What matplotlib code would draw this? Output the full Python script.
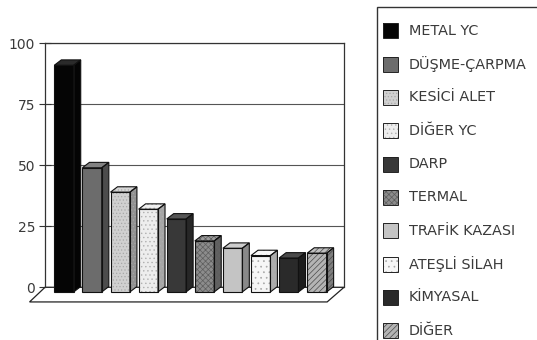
import matplotlib.pyplot as plt
from matplotlib.patches import Polygon, Rectangle
from matplotlib.colors import to_rgb

categories = ['METAL YC', 'DÜŞME-ÇARPMA', 'KESİCİ ALET', 'DİĞER YC', 'DARP',
              'TERMAL', 'TRAFİK KAZASI', 'ATEŞLİ SİLAH', 'KİMYASAL', 'DİĞER']
values = [91, 49, 39, 32, 28, 19, 16, 13, 12, 14]
y_ticks = [0, 25, 50, 75, 100]

# fill, hatch pattern and hatch colour for each series
face_colors = ['#050505', '#6c6c6c', '#d0d0d0', '#ededed', '#383838',
               '#8c8c8c', '#c4c4c4', '#f6f6f6', '#2a2a2a', '#b4b4b4']
hatches = [None, None, '.....', '....', None, 'xxxxxx', None, '...', None, '//////']
hatch_colors = ['#000000', '#555555', '#a8a8a8', '#b0b0b0', '#222222',
                '#5e5e5e', '#999999', '#a8a8a8', '#111111', '#4a4a4a']

plt.rcParams['font.family'] = 'DejaVu Sans'
plt.rcParams['hatch.linewidth'] = 0.5

W, H = 537, 340
fig = plt.figure(figsize=(W / 100, H / 100), dpi=100)

# back wall, pixel-placed so the 3D floor and legend fit around it
ax = fig.add_axes([45 / W, (H - 287.3) / H, 299 / W, 244 / H])
ax.set_xlim((45 - 64) / 28.1, (344 - 64) / 28.1)
ax.set_ylim(0, 100)
ax.set_yticks(y_ticks)
ax.set_xticks([])
ax.tick_params(axis='y', direction='inout', length=8, width=0.8, pad=3,
               labelsize=10, labelcolor='#3a3a3a', color='#333333')
for side in ['left', 'top', 'right']:
    ax.spines[side].set_linewidth(0.9)
    ax.spines[side].set_color('#333333')
ax.spines['bottom'].set_visible(False)
ax.set_axisbelow(True)
ax.yaxis.grid(True, color='#555555', linewidth=0.8)

# floor
xl, xr = ax.get_xlim()
floor = Polygon([(xl, 0), (xr, 0), (xr - 0.6, -6.0), (xl - 0.55, -6.0)],
                closed=True, facecolor='white', edgecolor='#222222',
                linewidth=0.9, zorder=1, clip_on=False)
ax.add_patch(floor)

base = -1.9      # front edge of the bars sits a little in front of the wall
width = 0.69
dx, dy = 0.25, 2.2  # depth offset of the boxes


def mix(c, t, k):
    c, t = to_rgb(c), to_rgb(t)
    return tuple(a + (b - a) * k for a, b in zip(c, t))


x = list(range(len(values)))
bars = ax.bar(x, [v - base for v in values], width=width, bottom=base,
              color=face_colors, linewidth=0, zorder=3, clip_on=False)

for i, b in enumerate(bars):
    left, right = b.get_x(), b.get_x() + b.get_width()
    top = b.get_y() + b.get_height()
    fc = face_colors[i]
    side = [(right, base), (right + dx, base + dy), (right + dx, top + dy), (right, top)]
    cap = [(left, top), (right, top), (right + dx, top + dy), (left + dx, top + dy)]
    for pts, col in [(side, mix(fc, '#000000', 0.3)), (cap, mix(fc, '#ffffff', 0.15))]:
        ax.add_patch(Polygon(pts, closed=True, facecolor=col, edgecolor=hatch_colors[i],
                             hatch=hatches[i], linewidth=0, zorder=3, clip_on=False))
        ax.add_patch(Polygon(pts, closed=True, fill=False, edgecolor='#111111',
                             linewidth=0.8, zorder=4, clip_on=False))
    if hatches[i]:
        b.set_hatch(hatches[i])
        b.set_edgecolor(hatch_colors[i])
    ax.add_patch(Rectangle((left, base), b.get_width(), top - base, fill=False,
                           edgecolor='#111111', linewidth=0.8, zorder=4, clip_on=False))

# legend box running off the right and bottom edges
fig.patches.append(Rectangle((377 / W, -0.1), 0.4, 1.1 - 7 / H, fill=False,
                             edgecolor='#333333', linewidth=1.0,
                             transform=fig.transFigure, figure=fig))
for i, name in enumerate(categories):
    yc = 30.7 + 33.33 * i
    sw = Rectangle((383 / W, (H - yc - 7.5) / H), 15 / W, 15 / H,
                   facecolor=face_colors[i], edgecolor=hatch_colors[i],
                   hatch=hatches[i], linewidth=0, transform=fig.transFigure, figure=fig)
    fig.patches.append(sw)
    fig.patches.append(Rectangle((383 / W, (H - yc - 7.5) / H), 15 / W, 15 / H,
                                 fill=False, edgecolor='#222222', linewidth=0.7,
                                 transform=fig.transFigure, figure=fig))
    fig.text(409 / W, (H - yc) / H, name, fontsize=10.4, color='#3a3a3a',
             ha='left', va='center')

fig.savefig('out.png', dpi=100)
